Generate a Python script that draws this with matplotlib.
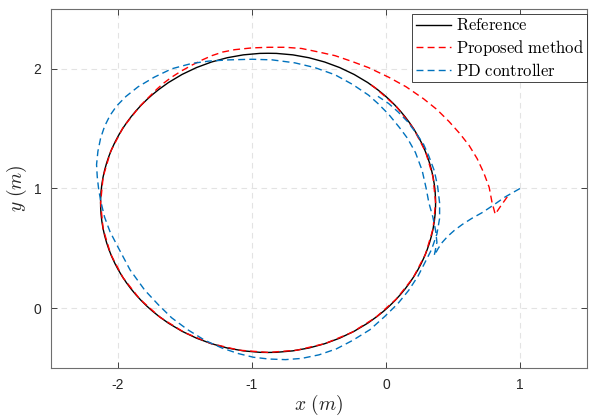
import matplotlib
matplotlib.use("Agg")
import matplotlib.pyplot as plt
from matplotlib.patches import Circle
from matplotlib.lines import Line2D

# reference circle
ref_center = (-0.88, 0.88)
ref_radius = 1.25

# proposed method trajectory
prop_x = [0.905, 0.86, 0.815, 0.79, 0.77, 0.73, 0.68, 0.62, 0.55, 0.47, 0.38,
          0.28, 0.15, 0.02, -0.13, -0.25, -0.38, -0.50, -0.63, -0.75, -0.875,
          -1.00, -1.13, -1.22, -1.30, -1.38, -1.45, -1.53, -1.60, -1.66, -1.71,
          -1.764,
          -1.838, -1.963, -2.055, -2.111, -2.130, -2.111, -2.055, -1.963,
          -1.838, -1.684, -1.505, -1.308, -1.097, -0.880, -0.663, -0.452,
          -0.255, -0.077, 0.078, 0.203, 0.295, 0.351, 0.370, 0.351, 0.295,
          0.203, 0.078, -0.077, -0.11]
prop_y = [0.93, 0.86, 0.785, 0.89, 1.01, 1.13, 1.25, 1.36, 1.46, 1.56, 1.66,
          1.75, 1.85, 1.93, 2.01, 2.06, 2.11, 2.14, 2.17, 2.18, 2.18,
          2.175, 2.16, 2.14, 2.11, 2.07, 2.03, 1.98, 1.93, 1.88, 1.83,
          1.770,
          1.686, 1.508, 1.310, 1.097, 0.880, 0.663, 0.452, 0.255,
          0.077, -0.078, -0.203, -0.295, -0.351, -0.370, -0.351, -0.295,
          -0.203, -0.078, 0.077, 0.255, 0.452, 0.663, 0.880, 1.097, 1.308,
          1.505, 1.684, 1.838, 1.865]

# PD controller trajectory
pd_x = [1.0, 0.89, 0.80, 0.72, 0.64, 0.57, 0.51, 0.46, 0.42, 0.39, 0.36,
        0.38, 0.37, 0.35, 0.32, 0.30, 0.27, 0.22, 0.16, 0.10, 0.02, -0.06,
        -0.13, -0.25, -0.38, -0.53, -0.68, -0.85, -1.00, -1.17, -1.32, -1.45,
        -1.60, -1.73, -1.85, -1.94, -2.01, -2.06, -2.10, -2.13, -2.15, -2.16,
        -2.155, -2.145, -2.13, -2.10, -2.06, -2.00, -1.91, -1.80, -1.70, -1.60,
        -1.48, -1.35, -1.22, -1.10, -0.99, -0.875, -0.75, -0.63, -0.50, -0.37,
        -0.25, -0.12, -0.01, 0.09, 0.17, 0.24, 0.29, 0.34, 0.38, 0.40, 0.40,
        0.385, 0.36, 0.32, 0.28, 0.22, 0.16, 0.09, 0.02, -0.06]
pd_y = [1.0, 0.93, 0.86, 0.80, 0.75, 0.70, 0.65, 0.60, 0.55, 0.50, 0.44,
        0.55, 0.65, 0.76, 0.88, 1.00, 1.15, 1.30, 1.42, 1.51, 1.62, 1.71,
        1.78, 1.87, 1.95, 2.01, 2.05, 2.075, 2.08, 2.075, 2.065, 2.045,
        2.00, 1.93, 1.85, 1.77, 1.69, 1.61, 1.52, 1.42, 1.31, 1.20,
        1.10, 1.00, 0.90, 0.76, 0.64, 0.51, 0.32, 0.15, 0.03, -0.08,
        -0.18, -0.27, -0.335, -0.38, -0.41, -0.425, -0.43, -0.42, -0.39, -0.34,
        -0.27, -0.18, -0.07, 0.04, 0.15, 0.27, 0.38, 0.49, 0.62, 0.75, 0.88,
        1.02, 1.15, 1.27, 1.37, 1.47, 1.56, 1.64, 1.71, 1.77]

x_ticks = [-2, -1, 0, 1]
y_ticks = [0, 1, 2]

plt.rcParams['mathtext.fontset'] = 'cm'
plt.rcParams['font.family'] = ['Liberation Sans', 'DejaVu Sans']
plt.rcParams['axes.unicode_minus'] = False

fig = plt.figure(figsize=(5.89, 4.19), dpi=100)
ax = fig.add_axes([51 / 589, 51 / 419, 536 / 589, 359 / 419])

ax.add_patch(Circle(ref_center, ref_radius, fill=False, color='black', lw=1.0, zorder=2))
ax.plot(prop_x, prop_y, color='red', lw=1.0, dashes=(5, 3), zorder=3)
ax.plot(pd_x, pd_y, color='#0072BD', lw=1.0, dashes=(5, 3), zorder=4)

ax.set_xlim(-2.5, 1.5)
ax.set_ylim(-0.5, 2.5)
ax.set_xticks(x_ticks)
ax.set_yticks(y_ticks)
ax.grid(True, color='#e3e3e3', lw=0.8, dashes=(5, 4))
ax.set_axisbelow(True)

ax.tick_params(direction='in', length=4, width=0.6, top=True, right=True,
               colors='#262626', labelsize=10, pad=7)
for s in ax.spines.values():
    s.set_color('#6e6e6e')
    s.set_linewidth(0.8)

ax.set_xlabel(r'$x\ (m)$', fontsize=14, color='#262626', labelpad=1)
ax.set_ylabel(r'$y\ (m)$', fontsize=14, color='#262626', labelpad=3)

handles = [Line2D([], [], color='black', lw=1.0),
           Line2D([], [], color='red', lw=1.0, dashes=(5, 3)),
           Line2D([], [], color='#0072BD', lw=1.0, dashes=(5, 3))]
labels = [r'$\mathrm{Reference}$', r'$\mathrm{Proposed\ method}$', r'$\mathrm{PD\ controller}$']
leg = ax.legend(handles, labels, loc='upper right', bbox_to_anchor=(1.0, 0.986),
                borderaxespad=0, fontsize=12, handlelength=2.1, handletextpad=0.3,
                labelspacing=0.25, borderpad=0.2, fancybox=False, framealpha=1)
leg.get_frame().set_edgecolor('#262626')
leg.get_frame().set_linewidth(0.6)

fig.savefig('out.png', dpi=100)
